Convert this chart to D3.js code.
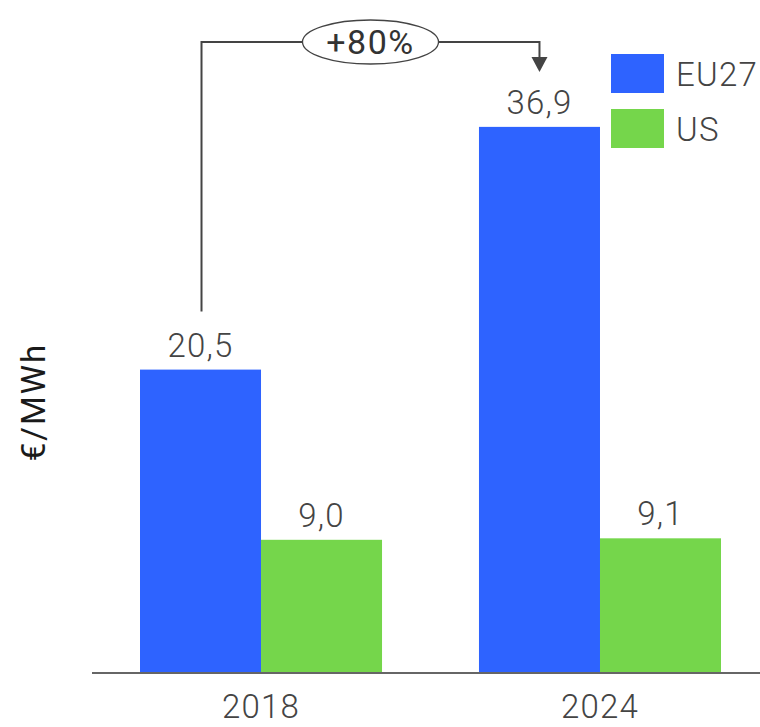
<!DOCTYPE html>
<html>
<head>
<meta charset="utf-8">
<script src="https://cdn.jsdelivr.net/npm/d3@7"></script>
<style>
  html, body { margin: 0; padding: 0; background: #fff; }
  svg { display: block; font-family: Roboto, "Noto Sans", sans-serif; }
</style>
</head>
<body>
<svg id="chart" width="760" height="727"></svg>
<script>
// Electricity prices, €/MWh
const years = ["2018", "2024"];
const regions = ["EU27", "US"];
const eu27 = [20.5, 36.9];
const us = [9.0, 9.1];
const changeLabel = "+80%";
const unitLabel = "€/MWh";

const colors = { EU27: "#2e63ff", US: "#75d64b" };
const textColor = "#444";
const fontSize = 33;
const spacing = 1.2;

const svg = d3.select("#chart");
const baseY = 673;

const x0 = d3.scaleBand()
  .domain(years)
  .range([92, 769])
  .paddingInner(0.286)
  .paddingOuter(0.1416);

const x1 = d3.scaleBand()
  .domain(regions)
  .range([0, x0.bandwidth()]);

const y = d3.scaleLinear()
  .domain([0, 40])
  .range([baseY, baseY - 592]);

const rows = years.map((yr, i) => ({
  year: yr,
  values: [
    { region: "EU27", value: eu27[i] },
    { region: "US", value: us[i] }
  ]
}));

const fmt = v => d3.format(".1f")(v).replace(".", ",");

// bars
const groups = svg.append("g")
  .selectAll("g")
  .data(rows)
  .join("g")
  .attr("transform", d => `translate(${x0(d.year)},0)`);

groups.selectAll("rect")
  .data(d => d.values)
  .join("rect")
  .attr("x", d => x1(d.region))
  .attr("y", d => y(d.value))
  .attr("width", x1.bandwidth())
  .attr("height", d => y(0) - y(d.value))
  .attr("fill", d => colors[d.region]);

// value labels
groups.selectAll("text")
  .data(d => d.values)
  .join("text")
  .attr("x", d => x1(d.region) + x1.bandwidth() / 2)
  .attr("y", d => y(d.value) - 13)
  .attr("text-anchor", "middle")
  .attr("font-size", fontSize)
  .attr("font-weight", 300)
  .attr("letter-spacing", spacing)
  .attr("fill", textColor)
  .text(d => fmt(d.value));

// x axis
const xAxis = svg.append("g")
  .attr("transform", `translate(0,${baseY})`)
  .call(d3.axisBottom(x0).tickSize(0).tickPadding(22));
xAxis.select(".domain").remove();
xAxis.append("line")
  .attr("x1", 92).attr("x2", 760)
  .attr("y1", 0).attr("y2", 0)
  .attr("stroke", "#666").attr("stroke-width", 2);
xAxis.selectAll(".tick text")
  .attr("font-size", fontSize)
  .attr("font-weight", 300)
  .attr("letter-spacing", spacing)
  .attr("font-family", "Roboto, sans-serif")
  .attr("fill", textColor)
  .attr("dy", "0.71em");

// y axis title
svg.append("text")
  .attr("transform", `translate(33,402) rotate(-90)`)
  .attr("text-anchor", "middle")
  .attr("dy", "0.36em")
  .attr("font-size", 33)
  .attr("letter-spacing", 2)
  .attr("fill", "#1a1a1a")
  .text(unitLabel);

// legend
const legend = svg.append("g")
  .selectAll("g")
  .data(regions)
  .join("g")
  .attr("transform", (d, i) => `translate(611,${54 + i * 55})`);
legend.append("rect")
  .attr("width", 53).attr("height", 39)
  .attr("fill", d => colors[d]);
legend.append("text")
  .attr("x", 65).attr("y", 20)
  .attr("dy", "0.36em")
  .attr("font-size", fontSize)
  .attr("font-weight", 300)
  .attr("letter-spacing", spacing)
  .attr("fill", textColor)
  .text(d => d);

// change annotation: 2018 EU27 -> 2024 EU27
const xa = x0(years[0]) + x1("EU27") + x1.bandwidth() / 2 + 1;
const xb = x0(years[1]) + x1("EU27") + x1.bandwidth() / 2;
const topY = 42;
const startY = y(eu27[0]) - 58;
const tipY = y(eu27[1]) - 55;
const ann = svg.append("g").attr("stroke", "#444").attr("stroke-width", 2).attr("fill", "none");
ann.append("path")
  .attr("d", `M${xa},${startY} V${topY} H${xb} V${tipY - 14}`);
ann.append("path")
  .attr("d", `M${xb - 8},${tipY - 15} L${xb + 8},${tipY - 15} L${xb},${tipY} Z`)
  .attr("fill", "#444").attr("stroke", "none");
const cx = (xa + xb) / 2;
ann.append("ellipse")
  .attr("cx", cx).attr("cy", topY)
  .attr("rx", 68).attr("ry", 22)
  .attr("fill", "#fff").attr("stroke-width", 1.3);
svg.append("text")
  .attr("x", cx).attr("y", topY)
  .attr("dy", "0.36em")
  .attr("text-anchor", "middle")
  .attr("font-size", 34)
  .attr("letter-spacing", 1.5)
  .attr("fill", "#333")
  .text(changeLabel);
</script>
</body>
</html>
